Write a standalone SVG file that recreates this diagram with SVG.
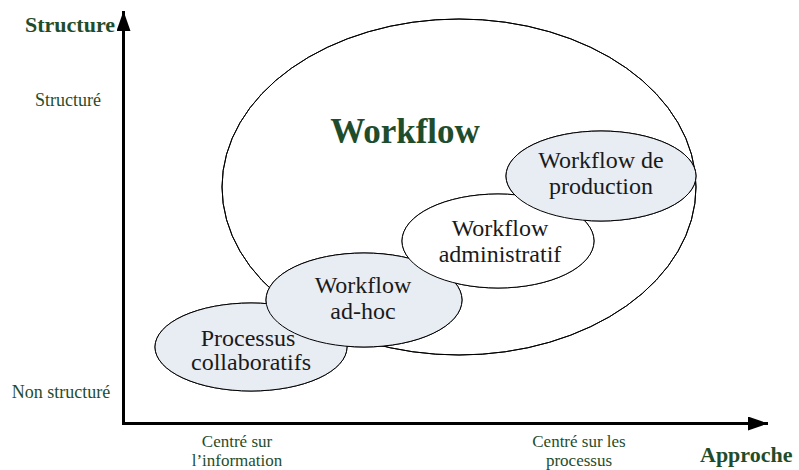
<svg xmlns="http://www.w3.org/2000/svg" xmlns:xlink="http://www.w3.org/1999/xlink" width="799" height="470" viewBox="0 0 799 470">
<style>
.lbl{font-family:"Liberation Serif","DejaVu Serif",serif;fill:#1f4d2c;font-size:18px;text-anchor:middle}
.lbl2{font-family:"Liberation Serif","DejaVu Serif",serif;fill:#1f4d2c;font-size:17px;text-anchor:middle}
.axis{font-family:"Liberation Serif","DejaVu Serif",serif;fill:#1f4d2c;font-size:22px;font-weight:bold}
.node{font-family:"Liberation Serif","DejaVu Serif",serif;fill:#1a1a1a;font-size:24px;text-anchor:middle}
.sub{fill:#e8ecf3;stroke:#000;stroke-width:1}
.plain{fill:#fff;stroke:#000;stroke-width:1}
.outline{fill:none;stroke:#000;stroke-width:1}
</style>
<defs>
<marker id="arr" viewBox="0 0 20 14" refX="20" refY="7" markerWidth="20" markerHeight="14" markerUnits="userSpaceOnUse" orient="auto">
<path d="M0,0 L20,7 L0,14 z" fill="#000"/>
</marker>
</defs>
<rect width="799" height="470" fill="#fff"/>

<g id="axes">
<polyline points="123.5,424 123.5,11" fill="none" stroke="#000" stroke-width="3" marker-end="url(#arr)"/>
<polyline points="122,423.5 768,423.5" fill="none" stroke="#000" stroke-width="3" marker-end="url(#arr)"/>
<text class="axis" x="25" y="32">Structure</text>
<text class="axis" x="700" y="462" font-size="23">Approche</text>
<text class="lbl" x="68" y="106">Structuré</text>
<text class="lbl" x="61" y="398">Non structuré</text>
<text class="lbl2" x="237" y="447">Centré sur</text>
<text class="lbl2" x="237" y="466">l’information</text>
<text class="lbl2" x="579" y="447">Centré sur les</text>
<text class="lbl2" x="579" y="466">processus</text>
</g>

<g id="workflow">
<ellipse id="e-wf" class="outline" cx="459" cy="187" rx="237" ry="168"/>
<text x="405" y="143" font-family="'Liberation Serif','DejaVu Serif',serif" font-size="35" font-weight="bold" fill="#1f4d2c" text-anchor="middle">Workflow</text>
</g>

<g id="processus">
<ellipse id="e-pc" class="sub" cx="251" cy="347" rx="96" ry="44"/>
</g>
<g id="adhoc">
<ellipse id="e-ah" class="sub" cx="364" cy="300" rx="98" ry="47"/>
</g>
<g id="admin">
<ellipse id="e-ad" class="plain" cx="498" cy="241" rx="96" ry="47"/>
</g>
<g id="production">
<ellipse id="e-pr" class="sub" cx="601" cy="176" rx="95" ry="45"/>
</g>

<g id="outlines">
<use xlink:href="#e-wf" class="outline"/>
<use xlink:href="#e-pc" class="outline"/>
<use xlink:href="#e-ah" class="outline"/>
<use xlink:href="#e-ad" class="outline"/>
<use xlink:href="#e-pr" class="outline"/>
</g>

<g id="labels">
<text class="node" x="248" y="346">Processus</text>
<text class="node" x="251" y="370">collaboratifs</text>
<text class="node" x="363" y="293">Workflow</text>
<text class="node" x="363" y="319">ad-hoc</text>
<text class="node" x="500" y="236">Workflow</text>
<text class="node" x="500" y="262">administratif</text>
<text class="node" x="601" y="168">Workflow de</text>
<text class="node" x="601" y="194">production</text>
</g>
</svg>
